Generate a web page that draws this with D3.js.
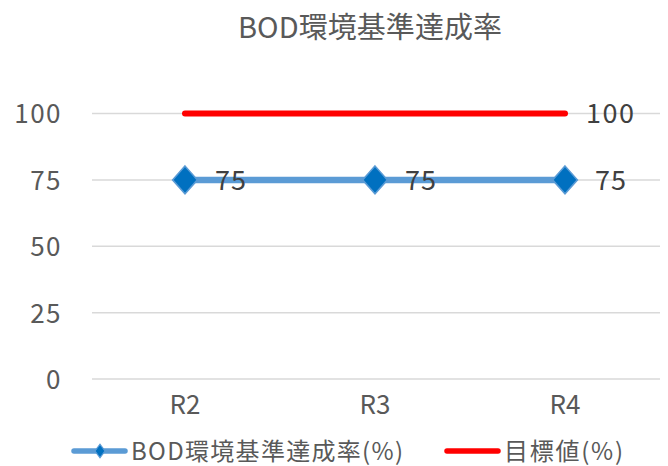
<!DOCTYPE html>
<html>
<head>
<meta charset="utf-8">
<script src="https://cdn.jsdelivr.net/npm/d3@7"></script>
<style>
  body { margin: 0; background: #fff; }
  svg { font-family: "Noto Sans CJK JP", "Noto Sans", sans-serif; }
</style>
</head>
<body>
<div id="chart"></div>
<script>
// data
const categories = ["R2", "R3", "R4"];
const rateValues = [75, 75, 75];      // BOD環境基準達成率(%)
const targetValues = [100, 100, 100]; // 目標値(%)
const yTicks = [0, 25, 50, 75, 100];

const width = 668, height = 466,
      margin = { top: 113.5, right: 8, bottom: 87, left: 92 };

const svg = d3.select("#chart").append("svg")
    .attr("width", width)
    .attr("height", height);

const x = d3.scaleBand()
    .domain(categories)
    .range([margin.left - 2, width - margin.right]);

const y = d3.scaleLinear()
    .domain([0, 100])
    .range([height - margin.bottom, margin.top]);

// gridlines
svg.append("g")
    .selectAll("line")
    .data(yTicks)
    .join("line")
    .attr("x1", margin.left)
    .attr("x2", width - margin.right)
    .attr("y1", d => y(d))
    .attr("y2", d => y(d))
    .attr("stroke", "#d9d9d9")
    .attr("stroke-width", 1.5);

// y axis labels
const yAxis = svg.append("g")
    .attr("transform", `translate(${margin.left - 30},0)`)
    .call(d3.axisLeft(y).tickValues(yTicks).tickSize(0).tickPadding(0));
yAxis.select(".domain").remove();
yAxis.selectAll("text")
    .attr("fill", "#595959")
    .attr("dy", "0.36em")
    .style("font-size", "26px")
    .style("letter-spacing", "1.5px")
    .style("font-family", "Noto Sans CJK JP");

// x axis labels
const xAxis = svg.append("g")
    .attr("transform", `translate(0,${height - margin.bottom + 14})`)
    .call(d3.axisBottom(x).tickSize(0).tickPadding(0));
xAxis.select(".domain").remove();
xAxis.selectAll("text")
    .attr("fill", "#595959")
    .attr("dy", "0.8em")
    .style("font-size", "26px")
    .style("font-family", "Noto Sans CJK JP");

const cx = d => x(d) + x.bandwidth() / 2;

// target line
svg.append("path")
    .datum(categories.map((c, i) => [cx(c), y(targetValues[i])]))
    .attr("d", d3.line())
    .attr("fill", "none")
    .attr("stroke", "#ff0000")
    .attr("stroke-width", 6)
    .attr("stroke-linecap", "round");

// rate line
svg.append("path")
    .datum(categories.map((c, i) => [cx(c), y(rateValues[i])]))
    .attr("d", d3.line())
    .attr("fill", "none")
    .attr("stroke", "#5b9bd5")
    .attr("stroke-width", 6.5)
    .attr("stroke-linecap", "round");

// diamonds
svg.append("g")
    .selectAll("path")
    .data(categories)
    .join("path")
    .attr("d", d3.symbol(d3.symbolDiamond2, 390))
    .attr("transform", (d, i) => `translate(${cx(d)},${y(rateValues[i])}) scale(1,1.12)`)
    .attr("fill", "#0070c0")
    .attr("stroke", "#5b9bd5")
    .attr("stroke-width", 1.5);

// data labels
svg.append("g")
    .selectAll("text")
    .data(categories)
    .join("text")
    .attr("x", d => cx(d) + 30)
    .attr("y", (d, i) => y(rateValues[i]))
    .attr("dy", "0.36em")
    .attr("fill", "#404040")
    .style("font-size", "27px")
    .style("letter-spacing", "1px")
    .text((d, i) => rateValues[i]);

svg.append("text")
    .attr("x", cx(categories[2]) + 21)
    .attr("y", y(targetValues[2]))
    .attr("dy", "0.36em")
    .attr("fill", "#404040")
    .style("font-size", "27px")
    .style("letter-spacing", "1.5px")
    .text(targetValues[2]);

// title
svg.append("text")
    .attr("x", 238)
    .attr("y", 38)
    .attr("fill", "#595959")
    .attr("textLength", 264)
    .attr("lengthAdjust", "spacing")
    .style("font-size", "29px")
    .text("BOD環境基準達成率");

// legend
const legendY = 451;
const lg1 = svg.append("g");
lg1.append("line")
    .attr("x1", 74).attr("x2", 125)
    .attr("y1", legendY).attr("y2", legendY)
    .attr("stroke", "#5b9bd5").attr("stroke-width", 5.5)
    .attr("stroke-linecap", "round");
lg1.append("path")
    .attr("d", d3.symbol(d3.symbolDiamond2, 65))
    .attr("transform", `translate(100,${legendY}) scale(1,1.35)`)
    .attr("fill", "#0070c0")
    .attr("stroke", "#5b9bd5");
lg1.append("text")
    .attr("x", 131).attr("y", legendY)
    .attr("dy", "0.36em")
    .attr("fill", "#595959")
    .attr("textLength", 272)
    .attr("lengthAdjust", "spacing")
    .style("font-size", "24px")
    .text("BOD環境基準達成率(%)");

const lg2 = svg.append("g");
lg2.append("line")
    .attr("x1", 447).attr("x2", 498)
    .attr("y1", legendY).attr("y2", legendY)
    .attr("stroke", "#ff0000").attr("stroke-width", 5.5)
    .attr("stroke-linecap", "round");
lg2.append("text")
    .attr("x", 504).attr("y", legendY)
    .attr("dy", "0.36em")
    .attr("fill", "#595959")
    .attr("textLength", 119)
    .attr("lengthAdjust", "spacing")
    .style("font-size", "24px")
    .text("目標値(%)");
</script>
</body>
</html>
